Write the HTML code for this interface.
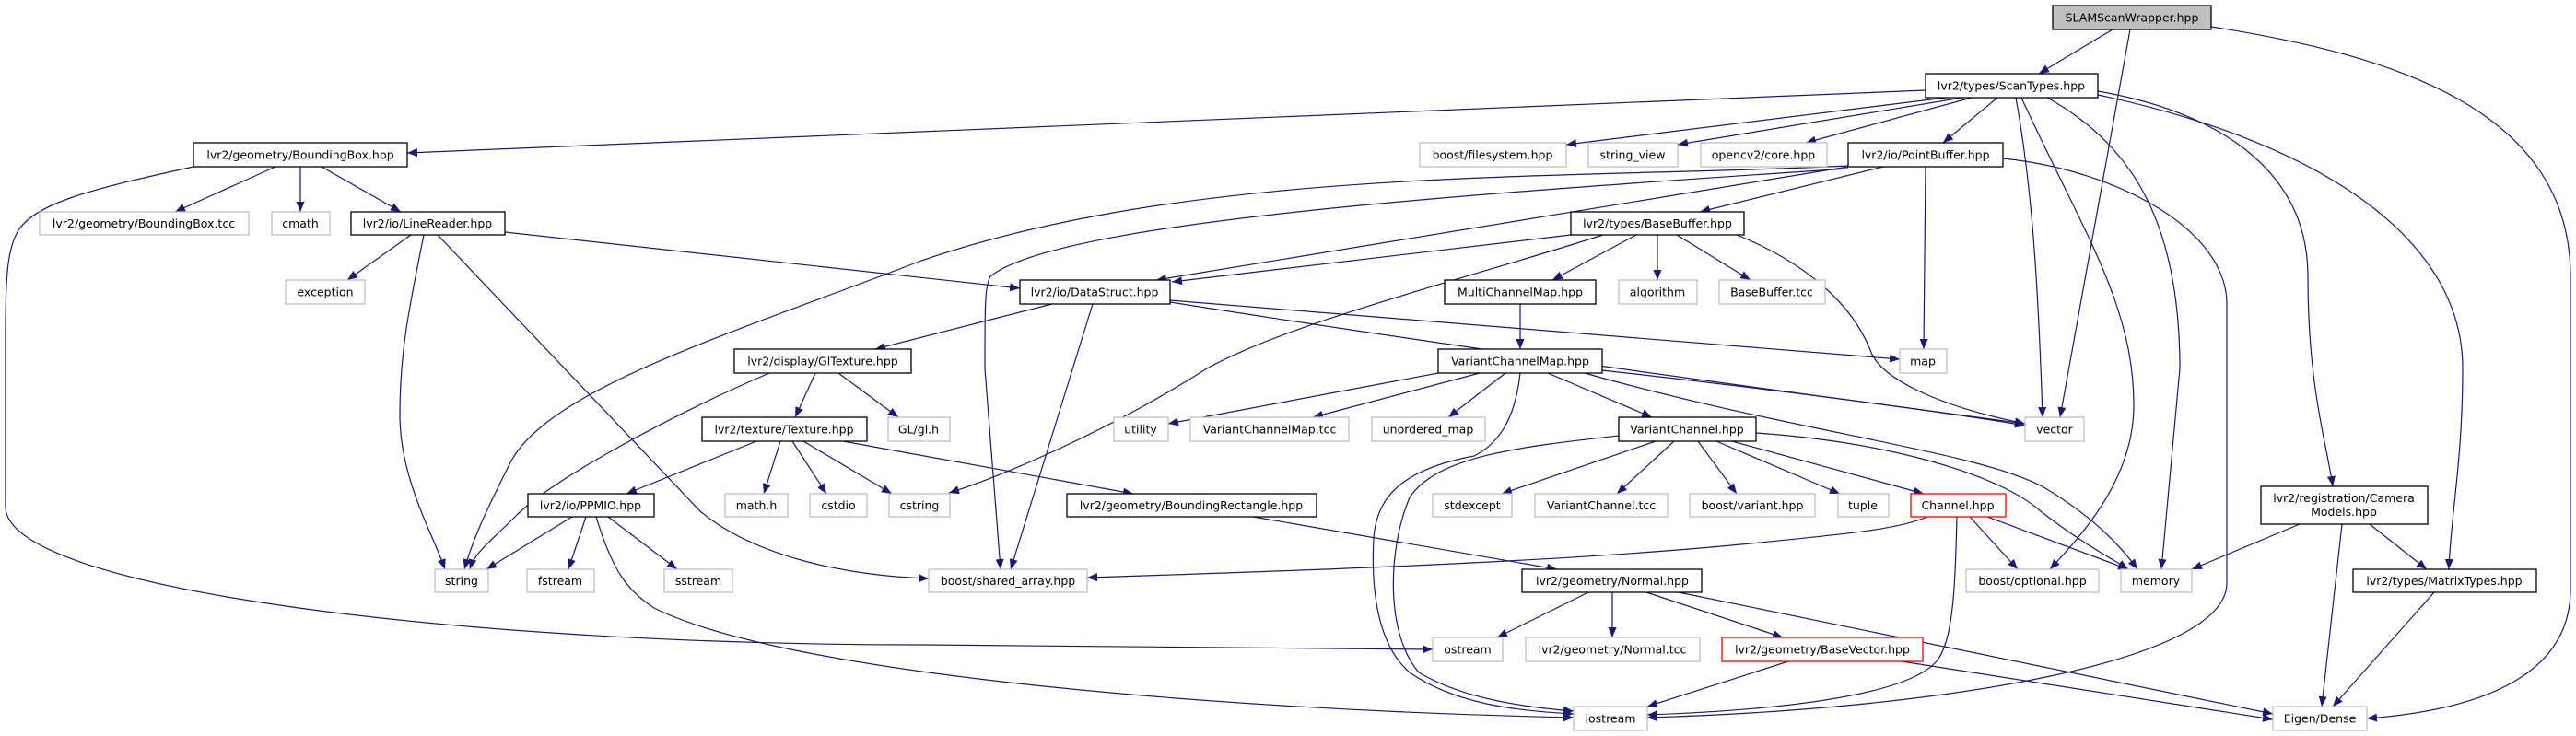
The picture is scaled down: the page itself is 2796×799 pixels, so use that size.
<!DOCTYPE html>
<html><head><meta charset="utf-8"><style>
html,body{margin:0;padding:0;background:#fff;}
svg{display:block;}
text{font-family:"DejaVu Sans","Liberation Sans",sans-serif;font-size:12.5px;fill:#000;text-anchor:middle;}
.e{fill:none;stroke:#191970;stroke-width:1.2;marker-end:url(#a);}
.b{fill:#fff;stroke:#000;stroke-width:1.3;}
.g{fill:#fff;stroke:#bfbfbf;stroke-width:1.3;}
.r{fill:#fff;stroke:#ff0000;stroke-width:1.3;}
</style></head><body>
<svg width="2796" height="799" viewBox="0 0 2796 799" xmlns="http://www.w3.org/2000/svg">
<defs><marker id="a" markerUnits="userSpaceOnUse" markerWidth="12" markerHeight="9" refX="11" refY="4.5" orient="auto"><path d="M0,0 L11,4.5 L0,9 z" fill="#191970"/></marker></defs>
<g>
<path class="e" d="M2293,32 L2213,80"/>
<path class="e" d="M2312,32 L2236,453"/>
<path class="e" d="M2400,29 C2600,60 2790,120 2790,300 L2790,640 C2790,730 2700,770 2569,780"/>
<path class="e" d="M2090,98 L442,166"/>
<path class="e" d="M2112,106 L1700,157"/>
<path class="e" d="M2130,106 L1821,157"/>
<path class="e" d="M2140,106 L1960,155"/>
<path class="e" d="M2168,106 L2109,155"/>
<path class="e" d="M2188,106 C2205,200 2212,300 2217,453"/>
<path class="e" d="M2194,106 C2260,250 2316,330 2316,440 C2316,520 2260,580 2225,618"/>
<path class="e" d="M2222,106 C2320,160 2366,250 2366,400 L2346,618"/>
<path class="e" d="M2277,99 C2400,120 2505,180 2505,300 C2505,420 2525,480 2532,528"/>
<path class="e" d="M2277,103 C2500,150 2673,250 2673,400 C2673,500 2660,560 2658,618"/>
<path class="e" d="M2006,180 C1700,195 1300,180 1000,283 C800,360 600,420 555,500 C530,550 515,580 504,618"/>
<path class="e" d="M2006,183 C1600,210 1150,240 1075,300 C1069,310 1069,330 1069,400 L1086,618"/>
<path class="e" d="M2006,181 C1700,230 1400,280 1255,304"/>
<path class="e" d="M2044,181 L1845,230"/>
<path class="e" d="M2090,181 L2088,379"/>
<path class="e" d="M2174,172 C2300,185 2417,250 2417,330 L2417,633 C2417,720 2100,770 1788,779"/>
<path class="e" d="M299,181 L190,230"/>
<path class="e" d="M326,181 L326,230"/>
<path class="e" d="M349,181 L435,230"/>
<path class="e" d="M210,181 C100,205 40,220 20,250 C8,270 6,300 6,360 L6,550 C6,640 500,700 1000,700 L1555,705"/>
<path class="e" d="M446,255 L377,304"/>
<path class="e" d="M548,252 L1107,313"/>
<path class="e" d="M460,255 C445,330 434,380 434,450 C434,520 470,580 483,618"/>
<path class="e" d="M475,255 L760,555 C820,605 920,625 1008,628"/>
<path class="e" d="M885,405 L863,453"/>
<path class="e" d="M910,405 L975,453"/>
<path class="e" d="M835,405 C730,450 600,520 560,560 C530,590 515,600 510,618"/>
<path class="e" d="M821,479 L680,536"/>
<path class="e" d="M847,479 L829,536"/>
<path class="e" d="M860,479 L897,536"/>
<path class="e" d="M872,479 L968,536"/>
<path class="e" d="M915,479 L1230,536"/>
<path class="e" d="M621,561 L528,618"/>
<path class="e" d="M636,561 L617,618"/>
<path class="e" d="M660,561 L735,618"/>
<path class="e" d="M647,561 C665,620 680,640 710,660 C850,730 1300,770 1708,779"/>
<path class="e" d="M1142,330 L950,379"/>
<path class="e" d="M1186,330 L1097,618"/>
<path class="e" d="M1270,326 L2062,390"/>
<path class="e" d="M1270,328 C1600,380 1900,420 2198,460"/>
<path class="e" d="M1705,255 L1272,306"/>
<path class="e" d="M1740,255 C1600,300 1400,350 1310,400 C1200,470 1080,520 1030,535"/>
<path class="e" d="M1776,255 L1685,304"/>
<path class="e" d="M1799,255 L1799,304"/>
<path class="e" d="M1820,255 L1900,304"/>
<path class="e" d="M1885,255 C1960,285 2010,330 2030,380 C2040,410 2100,440 2198,460"/>
<path class="e" d="M1650,330 L1650,379"/>
<path class="e" d="M1561,405 L1268,460"/>
<path class="e" d="M1606,405 L1425,453"/>
<path class="e" d="M1634,405 L1572,453"/>
<path class="e" d="M1680,405 L1793,453"/>
<path class="e" d="M1650,405 C1645,450 1630,480 1600,495 C1520,510 1495,540 1491,583 C1488,640 1495,700 1530,730 C1580,765 1650,772 1708,775"/>
<path class="e" d="M1739,402 C1900,420 2100,445 2198,462"/>
<path class="e" d="M1720,405 C1950,470 2150,490 2220,530 C2270,560 2300,590 2320,618"/>
<path class="e" d="M1797,479 L1630,536"/>
<path class="e" d="M1817,479 L1755,536"/>
<path class="e" d="M1843,479 L1885,536"/>
<path class="e" d="M1863,479 L1997,536"/>
<path class="e" d="M1880,479 L2088,536"/>
<path class="e" d="M1757,473 C1650,485 1560,495 1530,540 C1505,600 1505,690 1540,730 C1590,760 1660,768 1708,772"/>
<path class="e" d="M1906,470 C2050,480 2170,515 2215,555 C2260,590 2290,605 2310,618"/>
<path class="e" d="M2092,561 C2060,575 2000,580 1900,590 C1700,610 1400,620 1180,627"/>
<path class="e" d="M2138,561 L2190,618"/>
<path class="e" d="M2157,561 L2310,618"/>
<path class="e" d="M2124,561 C2122,640 2120,700 2100,720 C2060,760 1900,772 1788,776"/>
<path class="e" d="M2496,569 L2379,618"/>
<path class="e" d="M2542,569 L2520,767"/>
<path class="e" d="M2572,569 L2634,618"/>
<path class="e" d="M2642,643 L2532,767"/>
<path class="e" d="M1360,561 L1690,618"/>
<path class="e" d="M1724,643 L1625,692"/>
<path class="e" d="M1750,643 L1750,692"/>
<path class="e" d="M1787,643 L1935,692"/>
<path class="e" d="M1822,643 L2467,775"/>
<path class="e" d="M1941,718 L1788,767"/>
<path class="e" d="M2064,718 L2467,781"/>
</g>
<g>
<rect x="2228" y="6" width="172" height="26" fill="#bfbfbf" stroke="#000" stroke-width="1.3"/><text x="2314" y="23.5">SLAMScanWrapper.hpp</text>
<rect class="b" x="2090" y="80" width="187" height="26"/><text x="2183" y="97.5">lvr2/types/ScanTypes.hpp</text>
<rect class="b" x="210" y="155" width="232" height="26"/><text x="326" y="172.5">lvr2/geometry/BoundingBox.hpp</text>
<rect class="g" x="1541" y="155" width="159" height="26"/><text x="1620" y="172.5">boost/filesystem.hpp</text>
<rect class="g" x="1724" y="155" width="97" height="26"/><text x="1772" y="172.5">string_view</text>
<rect class="g" x="1846" y="155" width="137" height="26"/><text x="1914" y="172.5">opencv2/core.hpp</text>
<rect class="b" x="2006" y="155" width="168" height="26"/><text x="2090" y="172.5">lvr2/io/PointBuffer.hpp</text>
<rect class="g" x="43" y="230" width="227" height="25"/><text x="156" y="247">lvr2/geometry/BoundingBox.tcc</text>
<rect class="g" x="295" y="230" width="63" height="25"/><text x="326" y="247">cmath</text>
<rect class="b" x="381" y="230" width="167" height="25"/><text x="464" y="247">lvr2/io/LineReader.hpp</text>
<rect class="b" x="1705" y="230" width="188" height="25"/><text x="1799" y="247">lvr2/types/BaseBuffer.hpp</text>
<rect class="g" x="310" y="304" width="86" height="26"/><text x="353" y="321.5">exception</text>
<rect class="b" x="1107" y="304" width="163" height="26"/><text x="1188" y="321.5">lvr2/io/DataStruct.hpp</text>
<rect class="b" x="1568" y="304" width="164" height="26"/><text x="1650" y="321.5">MultiChannelMap.hpp</text>
<rect class="g" x="1757" y="304" width="85" height="26"/><text x="1799" y="321.5">algorithm</text>
<rect class="g" x="1866" y="304" width="115" height="26"/><text x="1923" y="321.5">BaseBuffer.tcc</text>
<rect class="b" x="797" y="379" width="192" height="26"/><text x="893" y="396.5">lvr2/display/GlTexture.hpp</text>
<rect class="b" x="1561" y="379" width="178" height="26"/><text x="1650" y="396.5">VariantChannelMap.hpp</text>
<rect class="g" x="2062" y="379" width="51" height="26"/><text x="2087" y="396.5">map</text>
<rect class="b" x="762" y="453" width="179" height="26"/><text x="851" y="470.5">lvr2/texture/Texture.hpp</text>
<rect class="g" x="964" y="453" width="67" height="26"/><text x="997" y="470.5">GL/gl.h</text>
<rect class="g" x="1209" y="453" width="59" height="26"/><text x="1238" y="470.5">utility</text>
<rect class="g" x="1292" y="453" width="172" height="26"/><text x="1378" y="470.5">VariantChannelMap.tcc</text>
<rect class="g" x="1489" y="453" width="123" height="26"/><text x="1550" y="470.5">unordered_map</text>
<rect class="b" x="1757" y="453" width="149" height="26"/><text x="1831" y="470.5">VariantChannel.hpp</text>
<rect class="g" x="2198" y="453" width="64" height="26"/><text x="2230" y="470.5">vector</text>
<rect class="b" x="573" y="536" width="137" height="25"/><text x="641" y="553">lvr2/io/PPMIO.hpp</text>
<rect class="g" x="787" y="536" width="68" height="25"/><text x="821" y="553">math.h</text>
<rect class="g" x="879" y="536" width="62" height="25"/><text x="910" y="553">cstdio</text>
<rect class="g" x="965" y="536" width="66" height="25"/><text x="998" y="553">cstring</text>
<rect class="b" x="1158" y="536" width="271" height="25"/><text x="1293" y="553">lvr2/geometry/BoundingRectangle.hpp</text>
<rect class="g" x="1555" y="536" width="86" height="25"/><text x="1598" y="553">stdexcept</text>
<rect class="g" x="1666" y="536" width="144" height="25"/><text x="1738" y="553">VariantChannel.tcc</text>
<rect class="g" x="1834" y="536" width="136" height="25"/><text x="1902" y="553">boost/variant.hpp</text>
<rect class="g" x="1995" y="536" width="55" height="25"/><text x="2022" y="553">tuple</text>
<rect class="r" x="2074" y="536" width="103" height="25"/><text x="2125" y="553">Channel.hpp</text>
<rect class="b" x="2454" y="528" width="181" height="41"/><text x="2544" y="545">lvr2/registration/Camera</text><text x="2544" y="560">Models.hpp</text>
<rect class="g" x="472" y="618" width="58" height="25"/><text x="501" y="635">string</text>
<rect class="g" x="572" y="618" width="73" height="25"/><text x="608" y="635">fstream</text>
<rect class="g" x="721" y="618" width="74" height="25"/><text x="758" y="635">sstream</text>
<rect class="g" x="1008" y="618" width="172" height="25"/><text x="1094" y="635">boost/shared_array.hpp</text>
<rect class="b" x="1652" y="618" width="195" height="25"/><text x="1750" y="635">lvr2/geometry/Normal.hpp</text>
<rect class="g" x="2134" y="618" width="144" height="25"/><text x="2206" y="635">boost/optional.hpp</text>
<rect class="g" x="2302" y="618" width="77" height="25"/><text x="2340" y="635">memory</text>
<rect class="b" x="2554" y="618" width="199" height="25"/><text x="2653" y="635">lvr2/types/MatrixTypes.hpp</text>
<rect class="g" x="1555" y="692" width="76" height="26"/><text x="1593" y="709.5">ostream</text>
<rect class="g" x="1656" y="692" width="189" height="26"/><text x="1750" y="709.5">lvr2/geometry/Normal.tcc</text>
<rect class="r" x="1869" y="692" width="218" height="26"/><text x="1978" y="709.5">lvr2/geometry/BaseVector.hpp</text>
<rect class="g" x="1708" y="767" width="80" height="26"/><text x="1748" y="784.5">iostream</text>
<rect class="g" x="2467" y="767" width="102" height="26"/><text x="2518" y="784.5">Eigen/Dense</text>
</g>
</svg>
</body></html>
